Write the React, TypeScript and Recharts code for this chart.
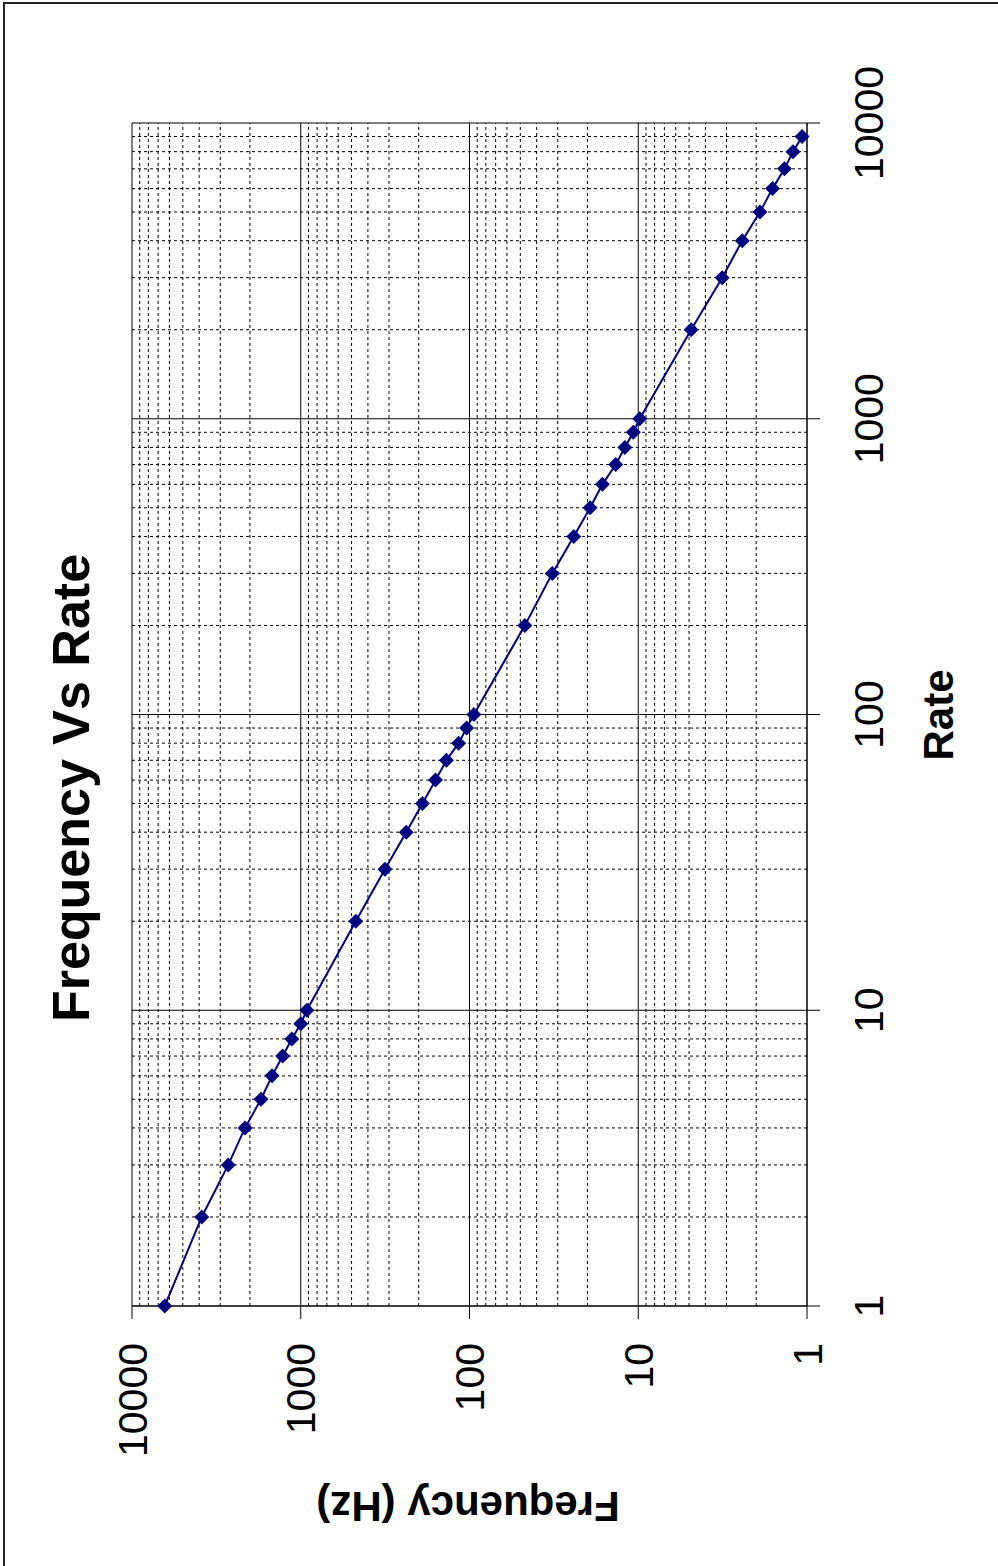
import React from "react";
import {
  ReferenceLine,
  Scatter,
  ScatterChart,
  XAxis,
  YAxis,
} from "recharts";

const rates = [
  1, 2, 3, 4, 5, 6, 7, 8, 9, 10,
  20, 30, 40, 50, 60, 70, 80, 90, 100,
  200, 300, 400, 500, 600, 700, 800, 900, 1000,
  2000, 3000, 4000, 5000, 6000, 7000, 8000, 9000,
];

const frequencies = [
  6400, 3860, 2690, 2140, 1720, 1480, 1280, 1130, 1000, 920,
  472, 317, 237, 190, 159, 137, 116, 104, 94.2,
  47.0, 32.3, 24.1, 19.3, 16.3, 13.6, 12.0, 10.7, 9.8,
  4.86, 3.18, 2.42, 1.9, 1.6, 1.36, 1.21, 1.07,
];

const decadeTicks = [1, 10, 100, 1000, 10000];
const minorSteps = [2, 3, 4, 5, 6, 7, 8, 9];

const data = rates.map((rate, i) => ({ rate, freq: frequencies[i] }));
const minorGrid = decadeTicks
  .slice(0, -1)
  .flatMap((d) => minorSteps.map((m) => m * d));

const font = "'Liberation Sans', Arial, sans-serif";
const navy = "#000080";

function Diamond(props: any) {
  const { cx, cy } = props;
  if (cx == null || cy == null) return null;
  const r = 7.5;
  return (
    <polygon
      points={`${cx},${cy - r} ${cx + r},${cy} ${cx},${cy + r} ${cx - r},${cy}`}
      fill={navy}
    />
  );
}

export default function App() {
  return (
    <div
      style={{
        position: "fixed",
        left: 0,
        top: 0,
        width: 998,
        height: 1566,
        background: "#fff",
        overflow: "hidden",
      }}
    >
      <div
        style={{
          position: "absolute",
          left: 3,
          top: 2,
          width: 1200,
          height: 1800,
          borderTop: "2px solid #222",
          borderLeft: "2px solid #222",
        }}
      />
      <div
        style={{
          position: "absolute",
          left: 0,
          top: 0,
          width: 1566,
          height: 998,
          transformOrigin: "0 0",
          transform: "translate(0px, 1566px) rotate(-90deg)",
        }}
      >
        <ScatterChart
          width={1566}
          height={998}
          margin={{ top: 132, right: 123, bottom: 131, left: 60 }}
        >
          {minorGrid.map((v) => (
            <ReferenceLine key={`mx${v}`} x={v} stroke="#000" strokeDasharray="3 3" />
          ))}
          {minorGrid.map((v) => (
            <ReferenceLine key={`my${v}`} y={v} stroke="#000" strokeDasharray="3 3" />
          ))}
          {decadeTicks.map((v) => (
            <ReferenceLine key={`Mx${v}`} x={v} stroke="#000" />
          ))}
          {decadeTicks.map((v) => (
            <ReferenceLine key={`My${v}`} y={v} stroke="#000" />
          ))}
          <XAxis
            type="number"
            dataKey="rate"
            scale="log"
            domain={[1, 10000]}
            ticks={decadeTicks}
            interval={0}
            height={60}
            tickSize={13}
            tickMargin={34}
            stroke="#000"
            tick={{ fontSize: 41, fill: "#000", fontFamily: font }}
          />
          <YAxis
            type="number"
            dataKey="freq"
            scale="log"
            domain={[1, 10000]}
            ticks={decadeTicks}
            interval={0}
            width={200}
            tickSize={13}
            tickMargin={24}
            stroke="#000"
            tick={{ fontSize: 41, fill: "#000", fontFamily: font }}
          />
          <Scatter
            data={data}
            fill={navy}
            line={{ stroke: navy, strokeWidth: 2 }}
            lineType="joint"
            shape={Diamond}
            isAnimationActive={false}
          />
        </ScatterChart>
        <svg
          width={1566}
          height={998}
          style={{ position: "absolute", left: 0, top: 0, pointerEvents: "none" }}
        >
          <text
            x={778}
            y={89}
            textAnchor="middle"
            fontFamily={font}
            fontWeight="bold"
            fontSize={52}
            fill="#000"
          >
            Frequency Vs Rate
          </text>
          <text
            x={851}
            y={953}
            textAnchor="middle"
            fontFamily={font}
            fontWeight="bold"
            fontSize={42}
            fill="#000"
          >
            Rate
          </text>
          <text
            transform="translate(74,468) rotate(-90)"
            textAnchor="middle"
            fontFamily={font}
            fontWeight="bold"
            fontSize={42}
            fill="#000"
          >
            Frequency (Hz)
          </text>
        </svg>
      </div>
    </div>
  );
}
